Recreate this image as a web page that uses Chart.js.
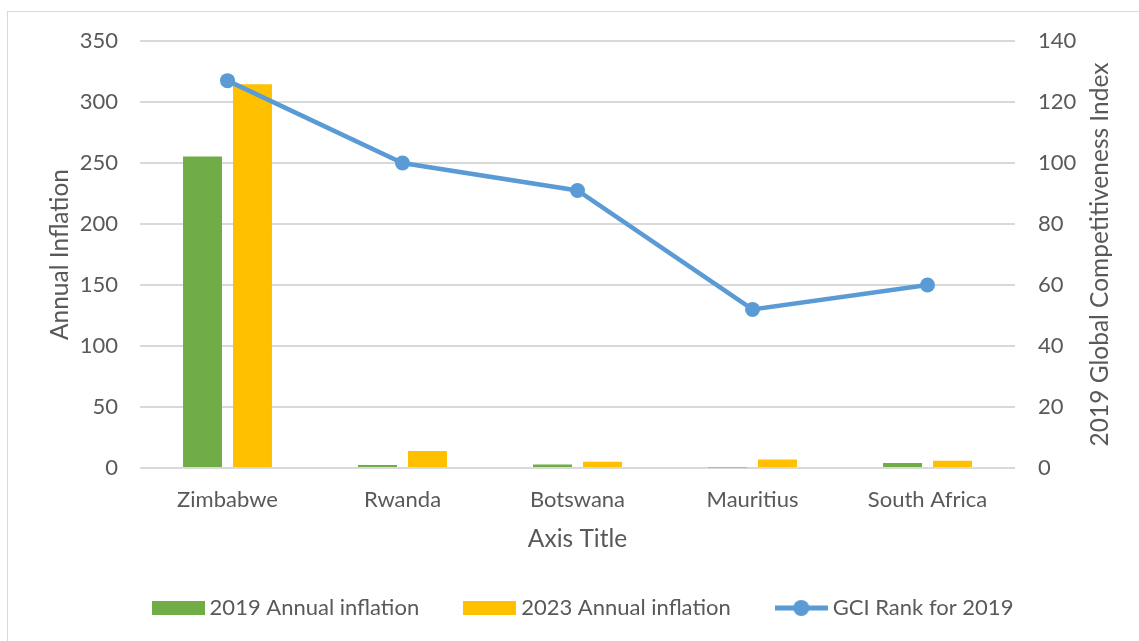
<!DOCTYPE html>
<html>
<head>
<meta charset="utf-8">
<script src="https://cdn.jsdelivr.net/npm/chart.js@4.4.1/dist/chart.umd.min.js"></script>
<style>
  html, body { margin: 0; padding: 0; background: #ffffff; overflow: hidden; }
  #frame { position: absolute; left: 7px; top: 11px; width: 1300px; height: 800px; border: 1px solid #d9d9d9; box-sizing: border-box; }
  #chart { position: absolute; left: 0; top: 0; }
</style>
</head>
<body>
<div id="frame"></div>
<canvas id="chart" width="1139" height="641"></canvas>
<script>
// Countries on the category axis
const categories = ['Zimbabwe', 'Rwanda', 'Botswana', 'Mauritius', 'South Africa'];
// Annual inflation (%)
const inflation2019 = [255.3, 2.4, 2.8, 0.5, 4.1];
const inflation2023 = [314.5, 14.0, 5.1, 7.0, 6.0];
// Global Competitiveness Index rank, 2019
const gciRank2019 = [127, 100, 91, 52, 60];
// Axis tick ranges
const leftTicks = { min: 0, max: 350, step: 50 };
const rightTicks = { min: 0, max: 140, step: 20 };

const GREEN = '#70ad47';
const YELLOW = '#ffc000';
const BLUE = '#5b9bd5';
const TEXT = '#595959';
const GRID = '#d9d9d9';
const FONT = 'Lato, "Open Sans", sans-serif';
const TICK_SIZE = 22;
const TITLE_SIZE = 24.5;

// Legend swatches as small canvases so the line entry can show line + marker
function swatch(draw) {
  const c = document.createElement('canvas');
  c.width = 53; c.height = 18;
  draw(c.getContext('2d'));
  return c;
}
const rectSwatch = (color) => swatch((g) => { g.fillStyle = color; g.fillRect(0, 2, 53, 14); });
const lineSwatch = swatch((g) => {
  g.strokeStyle = BLUE; g.lineWidth = 5;
  g.beginPath(); g.moveTo(0, 9); g.lineTo(53, 9); g.stroke();
  g.fillStyle = BLUE; g.beginPath(); g.arc(26.5, 9, 8, 0, Math.PI * 2); g.fill();
});
const swatches = [rectSwatch(GREEN), rectSwatch(YELLOW), lineSwatch];

// Right axis title reads bottom-to-top
const rightTitle = {
  id: 'rightTitle',
  afterDraw(chart) {
    const { ctx, chartArea } = chart;
    ctx.save();
    ctx.translate(1100, (chartArea.top + chartArea.bottom) / 2);
    ctx.rotate(-Math.PI / 2);
    ctx.fillStyle = TEXT;
    ctx.font = TITLE_SIZE + 'px ' + FONT;
    ctx.textAlign = 'center';
    ctx.textBaseline = 'middle';
    ctx.fillText('2019 Global Competitiveness Index', 0, 0);
    ctx.restore();
  }
};

new Chart(document.getElementById('chart'), {
  data: {
    labels: categories,
    datasets: [
      { type: 'bar', label: '2019 Annual inflation', data: inflation2019, backgroundColor: GREEN, yAxisID: 'y', order: 1,
        categoryPercentage: 0.571, barPercentage: 0.78 },
      { type: 'bar', label: '2023 Annual inflation', data: inflation2023, backgroundColor: YELLOW, yAxisID: 'y', order: 1,
        categoryPercentage: 0.571, barPercentage: 0.78 },
      { type: 'line', label: 'GCI Rank for 2019', data: gciRank2019, borderColor: BLUE, backgroundColor: BLUE,
        borderWidth: 4.5, pointRadius: 7.5, pointHoverRadius: 7.5, pointBorderWidth: 0, tension: 0, yAxisID: 'y1', order: 0 }
    ]
  },
  options: {
    responsive: false,
    devicePixelRatio: 1,
    animation: false,
    layout: { padding: { left: 32, right: 0, top: 41, bottom: 12 } },
    plugins: {
      tooltip: { enabled: false },
      legend: {
        position: 'bottom',
        labels: {
          usePointStyle: true,
          pointStyleWidth: 41,
          boxHeight: 14,
          padding: 50,
          color: TEXT,
          font: { family: FONT, size: TICK_SIZE },
          generateLabels(chart) {
            const items = Chart.defaults.plugins.legend.labels.generateLabels(chart);
            items.sort((a, b) => a.datasetIndex - b.datasetIndex);
            items.forEach((it) => { it.pointStyle = swatches[it.datasetIndex]; it.lineWidth = 0; });
            return items;
          }
        }
      }
    },
    scales: {
      x: {
        grid: { display: false },
        border: { display: false },
        ticks: { color: TEXT, font: { family: FONT, size: TICK_SIZE }, padding: 11, maxRotation: 0 },
        title: { display: true, text: 'Axis Title', color: TEXT, font: { family: FONT, size: TITLE_SIZE }, padding: { top: 0, bottom: -6.7 } },
        afterFit(s) { s.height = 79; }
      },
      y: {
        position: 'left',
        min: leftTicks.min, max: leftTicks.max,
        grid: { color: GRID, lineWidth: 2, drawTicks: false },
        border: { display: false },
        ticks: { stepSize: leftTicks.step, color: TEXT, font: { family: FONT, size: TICK_SIZE }, padding: 22 },
        title: { display: true, text: 'Annual Inflation', color: TEXT, font: { family: FONT, size: TITLE_SIZE }, padding: { top: 13.3, bottom: 0 } },
        afterFit(s) { s.width = 108; }
      },
      y1: {
        position: 'right',
        min: rightTicks.min, max: rightTicks.max,
        grid: { display: false, drawTicks: false },
        border: { display: false },
        ticks: { stepSize: rightTicks.step, color: TEXT, font: { family: FONT, size: TICK_SIZE }, padding: 23 },
        afterFit(s) { s.width = 124; }
      }
    }
  },
  plugins: [rightTitle]
});
</script>
</body>
</html>
